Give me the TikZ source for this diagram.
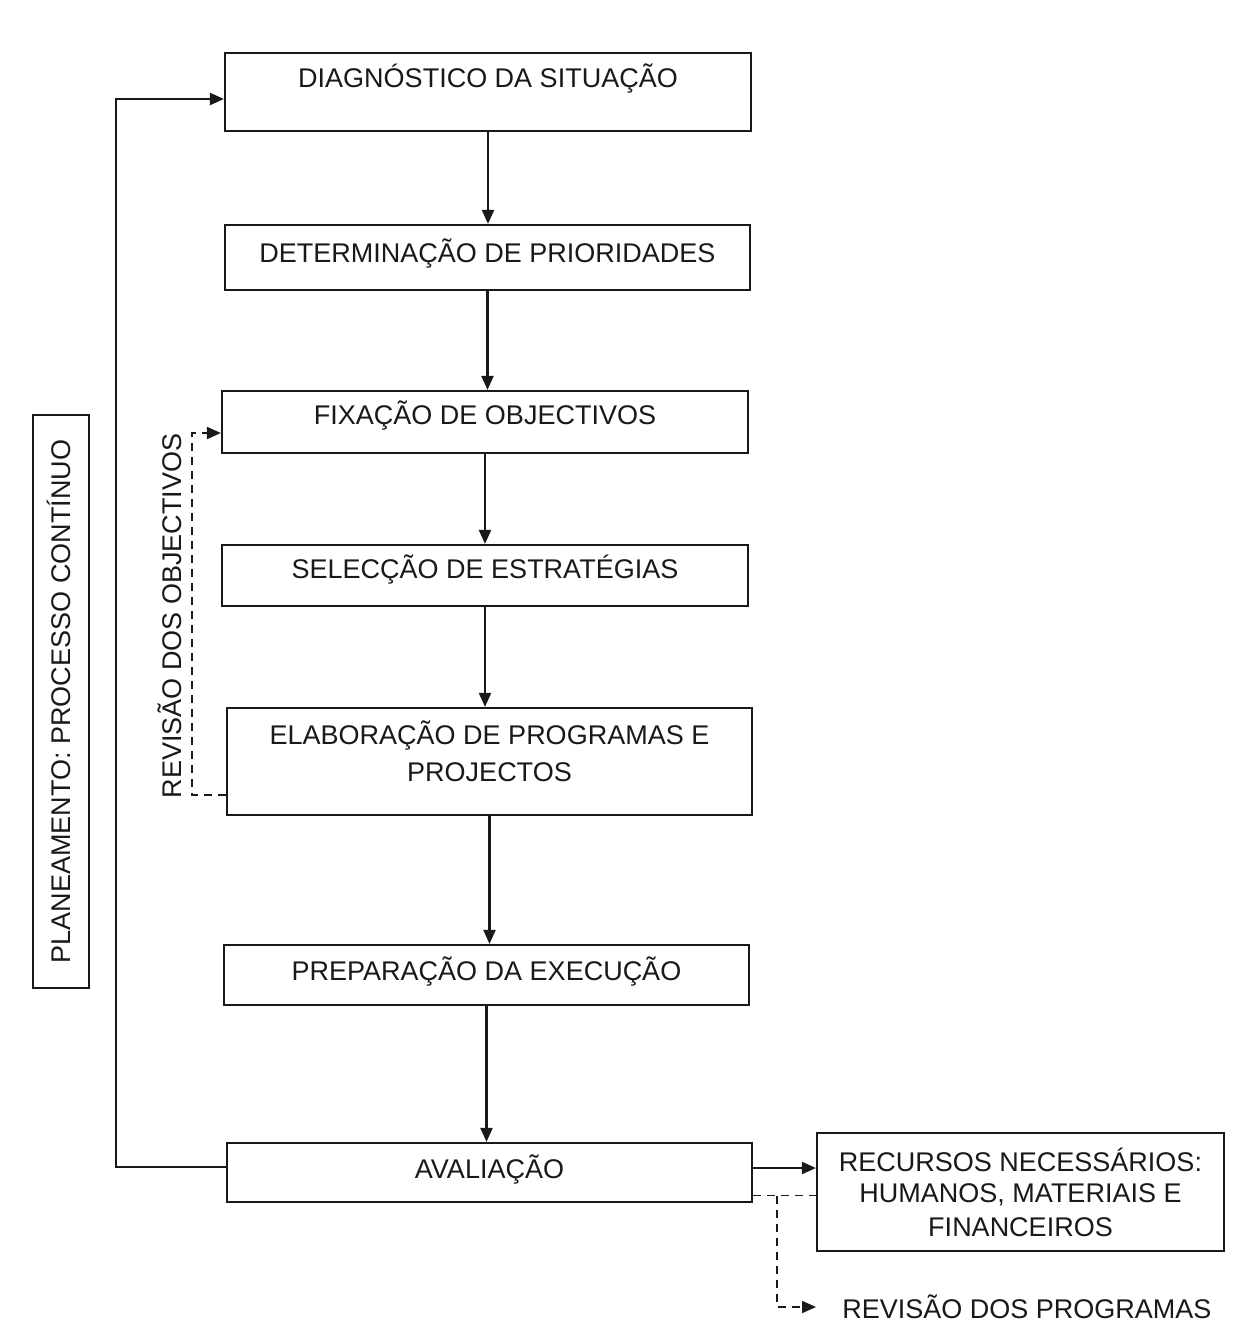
\documentclass[tikz,border=0pt]{standalone}
\usepackage{fontspec}
\setmainfont{Liberation Sans}
\usetikzlibrary{arrows.meta}
\begin{document}
\begin{tikzpicture}[x=0.5pt,y=-0.5pt,
  lbl/.style={font=\fontsize{13.5}{18.5}\selectfont, text=black!90},
  frame/.style={lbl, draw=black!90, line width=1.1pt, align=center, inner sep=0pt},
  box/.style={frame, text height=9.7pt, text depth=#1},
  box/.default=0pt,
  arr/.style={draw=black!90, line width=1.1pt, -{Triangle[length=7pt,width=6pt]}},
  darr/.style={draw=black!90, line width=0.9pt, dash pattern=on 4pt off 3pt, -{Triangle[length=7pt,width=6pt]}},
  dln/.style={draw=black!90, line width=0.9pt, dash pattern=on 4pt off 3pt}]
\fill[white] (0,0) rectangle (1243,1334);
\useasboundingbox (0,0) rectangle (1243,1334);

\node[box=14pt, minimum width=263pt, minimum height=39pt] (b1) at (488,92) {DIAGNÓSTICO DA SITUAÇÃO};
\node[box=4.5pt, minimum width=262.5pt, minimum height=32.5pt] (b2) at (487.5,257.5) {DETERMINAÇÃO DE PRIORIDADES};
\node[box=7pt, minimum width=263pt, minimum height=31pt] (b3) at (485,422) {FIXAÇÃO DE OBJECTIVOS};
\node[box=6.5pt, minimum width=263pt, minimum height=30.5pt] (b4) at (485,575.5) {SELECÇÃO DE ESTRATÉGIAS};
\node[frame, minimum width=262.5pt, minimum height=53.5pt] (b5) at (489.5,761.5) {ELABORAÇÃO DE PROGRAMAS E\\PROJECTOS\rule[-10.8pt]{0pt}{0pt}};
\node[box=4pt, minimum width=262.5pt, minimum height=30pt] (b6) at (486.5,975) {PREPARAÇÃO DA EXECUÇÃO};
\node[box=3.5pt, minimum width=262.5pt, minimum height=29.5pt] (b7) at (489.5,1172.5) {AVALIAÇÃO};
\node[frame, minimum width=203.5pt, minimum height=59pt] (b8) at (1020.5,1192)
  {RECURSOS NECESSÁRIOS:\\[-3pt]HUMANOS, MATERIAIS E\\[-1.5pt]FINANCEIROS};

\node[box=0pt, rotate=90, minimum width=286.5pt, minimum height=28pt] (pl) at (61,701.5) {PLANEAMENTO: PROCESSO CONTÍNUO};
\node[lbl, rotate=90, inner sep=0pt] (ro) at (170,616) {REVISÃO DOS OBJECTIVOS};
\node[lbl, anchor=west, inner sep=0pt] (rp) at (842,1307) {REVISÃO DOS PROGRAMAS};

% main flow
\draw[arr] (b1.south) -- (b1.south |- b2.north);
\draw[arr] (b2.south) -- (b2.south |- b3.north);
\draw[arr] (b3.south) -- (b3.south |- b4.north);
\draw[arr] (b4.south) -- (b4.south |- b5.north);
\draw[arr] (b5.south) -- (b5.south |- b6.north);
\draw[arr] (b6.south) -- (b6.south |- b7.north);

% feedback loop
\draw[arr] ([yshift=2.75pt]b7.west) -- ++(-110,0) |- ([yshift=-3.5pt]b1.west);

% revision of objectives
\draw[darr] ([yshift=-16.75pt]b5.west) -- ++(-34,0) |- ([yshift=-5.5pt]b3.west);

% resources
\draw[arr] ([yshift=2.25pt]b7.east) -- ([yshift=2.25pt]b7.east -| b8.west);
\draw[dln] ([yshift=-11.5pt]b7.east) -- ([yshift=-11.5pt]b7.east -| b8.west);
\coordinate (br) at (777,0);
\coordinate (rpa) at ([xshift=-13pt]rp.west);
\draw[darr] ([yshift=-11.5pt]b7.east -| br) |- (rpa);
\end{tikzpicture}
\end{document}
